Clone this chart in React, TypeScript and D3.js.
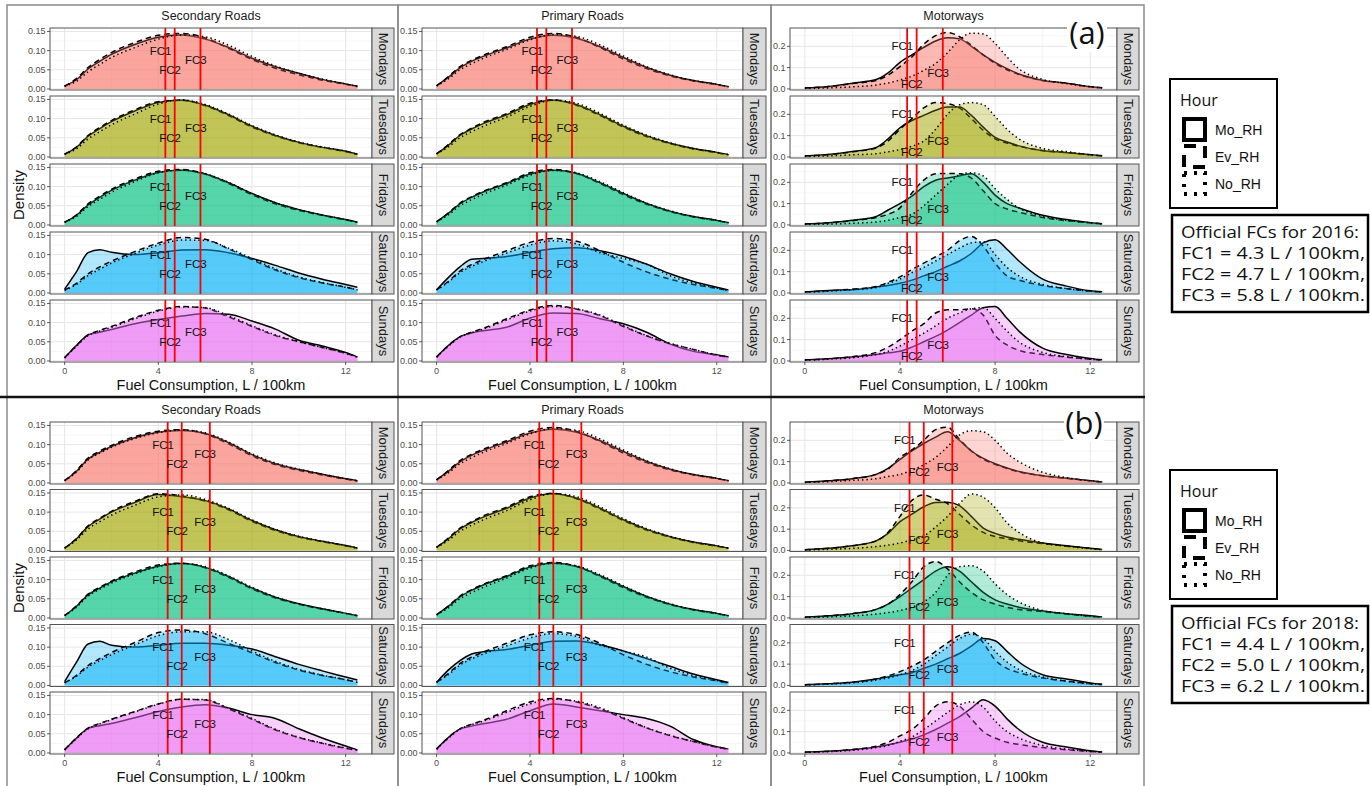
import React, { useRef, useEffect } from "react";
import * as d3 from "d3";

// categories
const roadTypes = ["Secondary Roads", "Primary Roads", "Motorways"];
const days = ["Mondays", "Tuesdays", "Fridays", "Saturdays", "Sundays"];
const hours = ["Mo_RH", "Ev_RH", "No_RH"];
const dayColors = ["#F8766D", "#A3A500", "#00BF7D", "#00B0F6", "#E76BF3"];
const fcLabels = ["FC1", "FC2", "FC3"];
const fc2016 = [4.3, 4.7, 5.8];
const fc2018 = [4.4, 5.0, 6.2];
const xTicks = [0, 4, 8, 12];
const roadYTicks = [0, 0.05, 0.1, 0.15];
const mwayYTicks = [0, 0.1, 0.2];
const roadLabelY = [0.1, 0.05, 0.075];
const mwayLabelY2016 = [0.2, 0.025, 0.075];
const mwayLabelY2018 = [0.2, 0.05, 0.075];

// points where the densities were read (L / 100km)
const roadX = [0, 0.5, 1, 1.5, 2, 3, 4, 5, 6, 7, 8, 9, 10, 11, 12, 12.5];
const mwayX = [0, 1, 2, 3, 3.5, 4, 4.5, 5, 5.5, 6, 6.5, 7, 7.5, 8, 8.5, 9, 10, 11, 12, 12.5];

// each array: [Mo_RH, Ev_RH, No_RH]
// ---- 2016, secondary roads
const sec16Mon = [
  [0.007, 0.024, 0.052, 0.072, 0.09, 0.116, 0.135, 0.141, 0.13, 0.108, 0.08, 0.058, 0.041, 0.025, 0.013, 0.007],
  [0.007, 0.027, 0.056, 0.077, 0.095, 0.121, 0.14, 0.145, 0.133, 0.106, 0.077, 0.054, 0.037, 0.023, 0.012, 0.006],
  [0.007, 0.02, 0.045, 0.064, 0.082, 0.108, 0.13, 0.141, 0.136, 0.114, 0.085, 0.06, 0.041, 0.026, 0.013, 0.007],
];
const sec16Tue = [
  [0.007, 0.025, 0.054, 0.074, 0.092, 0.12, 0.142, 0.148, 0.135, 0.11, 0.08, 0.056, 0.038, 0.025, 0.015, 0.007],
  [0.007, 0.026, 0.056, 0.077, 0.095, 0.123, 0.144, 0.148, 0.134, 0.108, 0.078, 0.055, 0.037, 0.025, 0.014, 0.007],
  [0.007, 0.021, 0.047, 0.066, 0.084, 0.112, 0.138, 0.149, 0.137, 0.112, 0.082, 0.058, 0.039, 0.026, 0.015, 0.007],
];
const sec16Fri = [
  [0.007, 0.025, 0.052, 0.072, 0.09, 0.117, 0.137, 0.143, 0.133, 0.11, 0.082, 0.058, 0.04, 0.026, 0.014, 0.007],
  [0.007, 0.026, 0.055, 0.075, 0.093, 0.12, 0.14, 0.145, 0.133, 0.108, 0.079, 0.055, 0.038, 0.025, 0.013, 0.007],
  [0.007, 0.022, 0.048, 0.067, 0.085, 0.113, 0.136, 0.143, 0.134, 0.111, 0.082, 0.058, 0.04, 0.026, 0.014, 0.007],
];
const sec16Sat = [
  [0.01, 0.055, 0.105, 0.113, 0.106, 0.1, 0.105, 0.112, 0.113, 0.105, 0.09, 0.072, 0.052, 0.036, 0.022, 0.015],
  [0.007, 0.025, 0.05, 0.068, 0.083, 0.108, 0.13, 0.145, 0.14, 0.115, 0.087, 0.06, 0.04, 0.026, 0.015, 0.008],
  [0.007, 0.022, 0.045, 0.062, 0.078, 0.103, 0.125, 0.138, 0.137, 0.117, 0.09, 0.063, 0.042, 0.027, 0.015, 0.008],
];
const sec16Sun = [
  [0.008, 0.04, 0.068, 0.075, 0.082, 0.097, 0.108, 0.117, 0.124, 0.122, 0.104, 0.083, 0.054, 0.039, 0.022, 0.01],
  [0.008, 0.04, 0.068, 0.08, 0.09, 0.113, 0.132, 0.142, 0.138, 0.115, 0.09, 0.066, 0.05, 0.035, 0.02, 0.01],
  [0.008, 0.038, 0.066, 0.078, 0.088, 0.11, 0.13, 0.141, 0.139, 0.118, 0.092, 0.068, 0.05, 0.035, 0.02, 0.01],
];

// ---- 2016, primary roads
const pri16Mon = [
  [0.008, 0.03, 0.055, 0.072, 0.085, 0.107, 0.13, 0.14, 0.132, 0.11, 0.082, 0.056, 0.036, 0.022, 0.012, 0.006],
  [0.008, 0.032, 0.058, 0.075, 0.088, 0.11, 0.135, 0.145, 0.134, 0.108, 0.078, 0.053, 0.034, 0.021, 0.011, 0.006],
  [0.008, 0.026, 0.05, 0.066, 0.08, 0.103, 0.128, 0.142, 0.137, 0.115, 0.086, 0.058, 0.037, 0.022, 0.012, 0.006],
];
const pri16Tue = [
  [0.008, 0.03, 0.056, 0.073, 0.087, 0.11, 0.137, 0.148, 0.136, 0.11, 0.08, 0.055, 0.036, 0.022, 0.012, 0.006],
  [0.008, 0.032, 0.058, 0.075, 0.09, 0.113, 0.14, 0.149, 0.135, 0.108, 0.078, 0.053, 0.035, 0.021, 0.011, 0.006],
  [0.008, 0.026, 0.05, 0.066, 0.08, 0.104, 0.132, 0.148, 0.14, 0.114, 0.083, 0.057, 0.037, 0.022, 0.012, 0.006],
];
const pri16Fri = [
  [0.008, 0.03, 0.055, 0.072, 0.086, 0.108, 0.133, 0.143, 0.134, 0.11, 0.082, 0.056, 0.036, 0.022, 0.012, 0.006],
  [0.008, 0.031, 0.057, 0.074, 0.088, 0.11, 0.136, 0.145, 0.134, 0.108, 0.079, 0.054, 0.035, 0.021, 0.011, 0.006],
  [0.008, 0.026, 0.05, 0.066, 0.08, 0.104, 0.13, 0.142, 0.136, 0.113, 0.084, 0.057, 0.037, 0.022, 0.012, 0.006],
];
const pri16Sat = [
  [0.008, 0.04, 0.068, 0.088, 0.09, 0.095, 0.106, 0.115, 0.118, 0.11, 0.096, 0.075, 0.05, 0.03, 0.015, 0.008],
  [0.008, 0.03, 0.057, 0.074, 0.087, 0.11, 0.132, 0.142, 0.135, 0.11, 0.08, 0.055, 0.036, 0.022, 0.012, 0.006],
  [0.008, 0.028, 0.053, 0.069, 0.082, 0.104, 0.125, 0.136, 0.128, 0.105, 0.09, 0.075, 0.045, 0.026, 0.013, 0.006],
];
const pri16Sun = [
  [0.01, 0.04, 0.063, 0.073, 0.079, 0.088, 0.112, 0.125, 0.124, 0.11, 0.097, 0.075, 0.044, 0.025, 0.016, 0.01],
  [0.01, 0.04, 0.063, 0.075, 0.085, 0.11, 0.133, 0.145, 0.135, 0.118, 0.09, 0.065, 0.045, 0.03, 0.015, 0.01],
  [0.01, 0.038, 0.062, 0.074, 0.083, 0.107, 0.13, 0.142, 0.136, 0.12, 0.092, 0.066, 0.046, 0.03, 0.016, 0.01],
];

// ---- 2016, motorways
const mw16Mon = [
  [0.004, 0.011, 0.027, 0.044, 0.075, 0.125, 0.16, 0.195, 0.225, 0.24, 0.235, 0.2, 0.16, 0.125, 0.095, 0.07, 0.04, 0.027, 0.01, 0.005],
  [0.004, 0.011, 0.025, 0.04, 0.065, 0.105, 0.15, 0.21, 0.25, 0.265, 0.245, 0.205, 0.16, 0.12, 0.09, 0.068, 0.04, 0.027, 0.01, 0.005],
  [0.002, 0.005, 0.01, 0.018, 0.028, 0.042, 0.06, 0.087, 0.12, 0.17, 0.23, 0.262, 0.258, 0.214, 0.15, 0.095, 0.045, 0.025, 0.01, 0.005],
];
const mw16Tue = [
  [0.004, 0.011, 0.025, 0.045, 0.085, 0.137, 0.171, 0.195, 0.219, 0.234, 0.234, 0.195, 0.14, 0.092, 0.07, 0.052, 0.029, 0.02, 0.01, 0.005],
  [0.004, 0.011, 0.024, 0.042, 0.075, 0.13, 0.18, 0.23, 0.255, 0.25, 0.23, 0.18, 0.125, 0.085, 0.065, 0.05, 0.03, 0.02, 0.01, 0.005],
  [0.002, 0.005, 0.01, 0.015, 0.024, 0.035, 0.05, 0.075, 0.13, 0.2, 0.245, 0.255, 0.245, 0.19, 0.13, 0.085, 0.04, 0.025, 0.01, 0.005],
];
const mw16Fri = [
  [0.004, 0.01, 0.022, 0.04, 0.07, 0.1, 0.135, 0.18, 0.21, 0.22, 0.23, 0.24, 0.2, 0.14, 0.1, 0.08, 0.045, 0.025, 0.01, 0.005],
  [0.004, 0.01, 0.02, 0.035, 0.05, 0.08, 0.15, 0.21, 0.24, 0.242, 0.24, 0.22, 0.16, 0.1, 0.075, 0.06, 0.035, 0.02, 0.01, 0.005],
  [0.002, 0.004, 0.008, 0.014, 0.022, 0.035, 0.05, 0.09, 0.14, 0.19, 0.235, 0.245, 0.23, 0.17, 0.12, 0.08, 0.04, 0.022, 0.01, 0.005],
];
const mw16Sat = [
  [0.004, 0.012, 0.015, 0.028, 0.035, 0.045, 0.06, 0.08, 0.1, 0.125, 0.15, 0.185, 0.235, 0.25, 0.205, 0.15, 0.065, 0.032, 0.01, 0.005],
  [0.004, 0.01, 0.018, 0.03, 0.05, 0.075, 0.11, 0.14, 0.17, 0.2, 0.245, 0.265, 0.22, 0.14, 0.08, 0.06, 0.035, 0.02, 0.008, 0.004],
  [0.003, 0.008, 0.015, 0.025, 0.045, 0.065, 0.095, 0.12, 0.15, 0.18, 0.21, 0.235, 0.24, 0.18, 0.12, 0.08, 0.04, 0.02, 0.008, 0.004],
];
const mw16Sun = [
  [0.004, 0.01, 0.018, 0.03, 0.038, 0.045, 0.065, 0.09, 0.115, 0.145, 0.18, 0.215, 0.25, 0.255, 0.2, 0.14, 0.06, 0.03, 0.012, 0.005],
  [0.004, 0.01, 0.02, 0.04, 0.065, 0.1, 0.14, 0.175, 0.225, 0.24, 0.24, 0.245, 0.215, 0.12, 0.075, 0.05, 0.03, 0.018, 0.008, 0.004],
  [0.003, 0.008, 0.015, 0.03, 0.045, 0.07, 0.1, 0.13, 0.165, 0.2, 0.225, 0.245, 0.25, 0.2, 0.14, 0.09, 0.04, 0.02, 0.008, 0.004],
];

// ---- 2018, secondary roads
const sec18Mon = [
  [0.006, 0.03, 0.062, 0.08, 0.095, 0.118, 0.132, 0.137, 0.129, 0.105, 0.074, 0.05, 0.035, 0.023, 0.011, 0.006],
  [0.006, 0.032, 0.065, 0.083, 0.098, 0.121, 0.135, 0.139, 0.128, 0.102, 0.071, 0.048, 0.033, 0.021, 0.01, 0.005],
  [0.006, 0.028, 0.06, 0.078, 0.093, 0.116, 0.131, 0.138, 0.131, 0.107, 0.076, 0.052, 0.036, 0.023, 0.011, 0.006],
];
const sec18Tue = [
  [0.006, 0.03, 0.062, 0.082, 0.1, 0.125, 0.146, 0.14, 0.13, 0.108, 0.078, 0.054, 0.036, 0.024, 0.013, 0.006],
  [0.006, 0.031, 0.064, 0.084, 0.102, 0.128, 0.148, 0.142, 0.129, 0.106, 0.076, 0.052, 0.035, 0.023, 0.012, 0.006],
  [0.006, 0.027, 0.056, 0.075, 0.092, 0.118, 0.14, 0.145, 0.133, 0.11, 0.08, 0.055, 0.037, 0.024, 0.013, 0.006],
];
const sec18Fri = [
  [0.006, 0.03, 0.06, 0.078, 0.094, 0.117, 0.135, 0.142, 0.132, 0.108, 0.078, 0.054, 0.037, 0.024, 0.012, 0.006],
  [0.006, 0.031, 0.062, 0.08, 0.096, 0.12, 0.138, 0.143, 0.131, 0.106, 0.076, 0.052, 0.036, 0.023, 0.012, 0.006],
  [0.006, 0.028, 0.057, 0.075, 0.091, 0.115, 0.134, 0.142, 0.134, 0.11, 0.08, 0.055, 0.037, 0.024, 0.012, 0.006],
];
const sec18Sat = [
  [0.01, 0.06, 0.108, 0.115, 0.105, 0.1, 0.105, 0.11, 0.11, 0.105, 0.095, 0.075, 0.055, 0.038, 0.022, 0.014],
  [0.007, 0.026, 0.052, 0.07, 0.086, 0.112, 0.138, 0.145, 0.135, 0.11, 0.085, 0.06, 0.04, 0.026, 0.015, 0.008],
  [0.007, 0.024, 0.048, 0.065, 0.08, 0.106, 0.13, 0.14, 0.14, 0.12, 0.09, 0.063, 0.042, 0.027, 0.015, 0.008],
];
const sec18Sun = [
  [0.008, 0.038, 0.064, 0.071, 0.077, 0.092, 0.108, 0.12, 0.126, 0.117, 0.1, 0.09, 0.063, 0.039, 0.018, 0.008],
  [0.008, 0.039, 0.065, 0.077, 0.088, 0.108, 0.128, 0.14, 0.138, 0.115, 0.088, 0.06, 0.04, 0.025, 0.012, 0.007],
  [0.008, 0.037, 0.063, 0.076, 0.087, 0.107, 0.127, 0.14, 0.139, 0.117, 0.09, 0.062, 0.041, 0.026, 0.013, 0.007],
];

// ---- 2018, primary roads
const pri18Mon = pri16Mon;
const pri18Tue = pri16Tue;
const pri18Fri = pri16Fri;
const pri18Sat = [
  [0.008, 0.04, 0.065, 0.082, 0.088, 0.094, 0.105, 0.115, 0.116, 0.106, 0.09, 0.07, 0.05, 0.03, 0.015, 0.008],
  [0.008, 0.031, 0.057, 0.074, 0.087, 0.11, 0.132, 0.14, 0.133, 0.11, 0.08, 0.055, 0.036, 0.022, 0.012, 0.006],
  [0.008, 0.028, 0.053, 0.069, 0.082, 0.103, 0.124, 0.135, 0.128, 0.105, 0.09, 0.074, 0.045, 0.026, 0.013, 0.006],
];
const pri18Sun = [
  [0.01, 0.04, 0.062, 0.07, 0.076, 0.088, 0.11, 0.128, 0.12, 0.11, 0.1, 0.09, 0.07, 0.035, 0.016, 0.01],
  [0.01, 0.04, 0.063, 0.075, 0.085, 0.11, 0.133, 0.142, 0.133, 0.115, 0.09, 0.065, 0.045, 0.03, 0.015, 0.01],
  [0.01, 0.038, 0.062, 0.074, 0.083, 0.106, 0.128, 0.14, 0.135, 0.118, 0.092, 0.066, 0.046, 0.03, 0.016, 0.01],
];

// ---- 2018, motorways
const mw18Mon = [
  [0.003, 0.01, 0.02, 0.04, 0.068, 0.11, 0.15, 0.185, 0.215, 0.24, 0.2, 0.15, 0.115, 0.09, 0.07, 0.054, 0.034, 0.022, 0.01, 0.004],
  [0.003, 0.01, 0.02, 0.04, 0.065, 0.12, 0.155, 0.2, 0.25, 0.262, 0.205, 0.15, 0.112, 0.088, 0.068, 0.052, 0.034, 0.022, 0.01, 0.004],
  [0.002, 0.006, 0.012, 0.02, 0.03, 0.04, 0.06, 0.085, 0.12, 0.17, 0.225, 0.245, 0.24, 0.2, 0.14, 0.1, 0.05, 0.025, 0.01, 0.005],
];
const mw18Tue = [
  [0.003, 0.01, 0.022, 0.045, 0.08, 0.135, 0.17, 0.205, 0.225, 0.226, 0.21, 0.16, 0.105, 0.08, 0.063, 0.052, 0.035, 0.022, 0.01, 0.004],
  [0.003, 0.01, 0.022, 0.045, 0.085, 0.16, 0.235, 0.26, 0.24, 0.22, 0.17, 0.12, 0.085, 0.065, 0.055, 0.045, 0.032, 0.02, 0.01, 0.004],
  [0.002, 0.005, 0.01, 0.018, 0.025, 0.035, 0.05, 0.068, 0.11, 0.16, 0.22, 0.265, 0.25, 0.2, 0.13, 0.085, 0.035, 0.02, 0.008, 0.004],
];
const mw18Fri = [
  [0.003, 0.01, 0.02, 0.04, 0.065, 0.1, 0.14, 0.18, 0.22, 0.24, 0.22, 0.17, 0.12, 0.085, 0.065, 0.05, 0.033, 0.02, 0.01, 0.004],
  [0.003, 0.01, 0.02, 0.04, 0.065, 0.11, 0.17, 0.24, 0.265, 0.23, 0.17, 0.12, 0.085, 0.065, 0.05, 0.04, 0.03, 0.018, 0.008, 0.004],
  [0.002, 0.005, 0.01, 0.018, 0.025, 0.035, 0.05, 0.075, 0.12, 0.2, 0.24, 0.245, 0.22, 0.16, 0.11, 0.075, 0.035, 0.02, 0.008, 0.004],
];
const mw18Sat = [
  [0.003, 0.008, 0.015, 0.03, 0.04, 0.05, 0.06, 0.08, 0.1, 0.125, 0.15, 0.185, 0.22, 0.21, 0.16, 0.11, 0.05, 0.03, 0.012, 0.005],
  [0.003, 0.008, 0.015, 0.03, 0.045, 0.065, 0.09, 0.12, 0.16, 0.2, 0.235, 0.25, 0.2, 0.12, 0.08, 0.06, 0.035, 0.02, 0.008, 0.004],
  [0.002, 0.006, 0.012, 0.025, 0.035, 0.05, 0.07, 0.1, 0.14, 0.18, 0.22, 0.24, 0.22, 0.16, 0.11, 0.075, 0.04, 0.02, 0.008, 0.004],
];
const mw18Sun = [
  [0.003, 0.008, 0.015, 0.028, 0.038, 0.05, 0.065, 0.085, 0.11, 0.14, 0.17, 0.21, 0.25, 0.22, 0.16, 0.11, 0.05, 0.028, 0.01, 0.004],
  [0.003, 0.008, 0.016, 0.032, 0.05, 0.08, 0.11, 0.16, 0.22, 0.24, 0.22, 0.16, 0.1, 0.07, 0.05, 0.04, 0.025, 0.015, 0.007, 0.003],
  [0.002, 0.006, 0.012, 0.025, 0.035, 0.055, 0.075, 0.11, 0.15, 0.19, 0.225, 0.24, 0.215, 0.15, 0.1, 0.07, 0.035, 0.018, 0.007, 0.003],
];

const curves2016 = [
  [sec16Mon, sec16Tue, sec16Fri, sec16Sat, sec16Sun],
  [pri16Mon, pri16Tue, pri16Fri, pri16Sat, pri16Sun],
  [mw16Mon, mw16Tue, mw16Fri, mw16Sat, mw16Sun],
];
const curves2018 = [
  [sec18Mon, sec18Tue, sec18Fri, sec18Sat, sec18Sun],
  [pri18Mon, pri18Tue, pri18Fri, pri18Sat, pri18Sun],
  [mw18Mon, mw18Tue, mw18Fri, mw18Sat, mw18Sun],
];

const FONT = "'Liberation Sans', Arial, sans-serif";
const FONT2 = "'Open Sans', 'Liberation Sans', sans-serif";

export default function App() {
  const svgRef = useRef<SVGSVGElement>(null);

  useEffect(() => {
    const svg = d3.select(svgRef.current);
    svg.selectAll("*").remove();
    svg.append("rect").attr("width", 1370).attr("height", 786).attr("fill", "#fff");

    const cols = [
      { boxL: 7, boxR: 398, panL: 50, panR: 372, stripR: 394 },
      { boxL: 398, boxR: 771, panL: 422, panR: 743, stripR: 766 },
      { boxL: 771, boxR: 1144, panL: 790, panR: 1117, stripR: 1139 },
    ];
    const blocks = [
      { year: "2016", fc: fc2016, curves: curves2016, mwLab: mwayLabelY2016, top: 28, step: 68, boxTop: 5, boxBot: 397, tag: "(a)", tagX: 1087, tagY: 44, legTop: 79 },
      { year: "2018", fc: fc2018, curves: curves2018, mwLab: mwayLabelY2018, top: 422, step: 67.5, boxTop: 397, boxBot: 792, tag: "(b)", tagX: 1084, tagY: 434, legTop: 470 },
    ];
    const PH = 62;
    const dash = [null, "5.5,4", "1.4,3"];

    blocks.forEach((b) => {
      // column boxes
      cols.forEach((c) => {
        svg.append("rect")
          .attr("x", c.boxL).attr("y", b.boxTop)
          .attr("width", c.boxR - c.boxL).attr("height", b.boxBot - b.boxTop)
          .attr("fill", "none").attr("stroke", "#8a8a8a").attr("stroke-width", 1.5);
      });

      cols.forEach((c, r) => {
        const isMw = r === 2;
        const xs = isMw ? mwayX : roadX;
        const yTicks = isMw ? mwayYTicks : roadYTicks;
        const x = d3.scaleLinear().domain([-0.625, 13.125]).range([c.panL, c.panR]);
        const labY = isMw ? b.mwLab : roadLabelY;

        days.forEach((day, d) => {
          const top = b.top + d * b.step;
          const bot = top + PH;
          const y = d3.scaleLinear()
            .domain(isMw ? [-0.005, 0.286] : [-0.0027, 0.159])
            .range([bot, top]);
          const g = svg.append("g");

          g.append("rect").attr("x", c.panL).attr("y", top)
            .attr("width", c.panR - c.panL).attr("height", PH).attr("fill", "#fff");

          // grid
          const yMinor = d3.pairs(yTicks).map(([a, e]) => (a + e) / 2);
          yMinor.push(yTicks[yTicks.length - 1] + (yTicks[1] - yTicks[0]) / 2);
          const xMinor = d3.pairs(xTicks).map(([a, e]) => (a + e) / 2);
          g.selectAll(".ymin").data(yMinor.filter((v) => y(v) > top)).enter().append("line")
            .attr("x1", c.panL).attr("x2", c.panR).attr("y1", (v) => y(v)).attr("y2", (v) => y(v))
            .attr("stroke", "#f2f2f2").attr("stroke-width", 0.7);
          g.selectAll(".xmin").data(xMinor).enter().append("line")
            .attr("y1", top).attr("y2", bot).attr("x1", (v) => x(v)).attr("x2", (v) => x(v))
            .attr("stroke", "#f2f2f2").attr("stroke-width", 0.7);
          g.selectAll(".ymaj").data(yTicks).enter().append("line")
            .attr("x1", c.panL).attr("x2", c.panR).attr("y1", (v) => y(v)).attr("y2", (v) => y(v))
            .attr("stroke", "#e6e6e6").attr("stroke-width", 1);
          g.selectAll(".xmaj").data(xTicks).enter().append("line")
            .attr("y1", top).attr("y2", bot).attr("x1", (v) => x(v)).attr("x2", (v) => x(v))
            .attr("stroke", "#e6e6e6").attr("stroke-width", 1);

          // densities
          const area = d3.area<number[]>().x((p) => x(p[0])).y0(y(0)).y1((p) => y(p[1])).curve(d3.curveMonotoneX);
          const line = d3.line<number[]>().x((p) => x(p[0])).y((p) => y(p[1])).curve(d3.curveMonotoneX);
          b.curves[r][d].forEach((vals, h) => {
            const pts = xs.map((xv, i) => [xv, vals[i]]);
            g.append("path").attr("d", area(pts)).attr("fill", dayColors[d]).attr("fill-opacity", 0.3);
            g.append("path").attr("d", line(pts)).attr("fill", "none")
              .attr("stroke", "#000").attr("stroke-width", 1.5)
              .attr("stroke-dasharray", dash[h]);
          });

          // official FC lines + labels
          b.fc.forEach((v) => {
            g.append("line").attr("x1", x(v)).attr("x2", x(v)).attr("y1", top).attr("y2", bot)
              .attr("stroke", "#ff0000").attr("stroke-width", 1.8);
          });
          b.fc.forEach((v, i) => {
            g.append("text").attr("x", x(v - 0.2)).attr("y", y(labY[i]))
              .attr("text-anchor", "middle").attr("dominant-baseline", "central")
              .attr("font-family", FONT).attr("font-size", 11.5).attr("fill", "#111")
              .text(fcLabels[i]);
          });

          g.append("rect").attr("x", c.panL).attr("y", top)
            .attr("width", c.panR - c.panL).attr("height", PH)
            .attr("fill", "none").attr("stroke", "#555").attr("stroke-width", 1);

          // strip
          g.append("rect").attr("x", c.panR).attr("y", top)
            .attr("width", c.stripR - c.panR).attr("height", PH)
            .attr("fill", "#d9d9d9").attr("stroke", "#555").attr("stroke-width", 1);
          g.append("text")
            .attr("transform", `translate(${(c.panR + c.stripR) / 2},${top + PH / 2}) rotate(90)`)
            .attr("text-anchor", "middle").attr("dominant-baseline", "central")
            .attr("font-family", FONT).attr("font-size", 13).attr("fill", "#1a1a1a")
            .text(day);

          // y axis
          yTicks.forEach((t) => {
            g.append("line").attr("x1", c.panL - 3).attr("x2", c.panL).attr("y1", y(t)).attr("y2", y(t))
              .attr("stroke", "#333").attr("stroke-width", 0.8);
            g.append("text").attr("x", c.panL - 4.5).attr("y", y(t))
              .attr("text-anchor", "end").attr("dominant-baseline", "central")
              .attr("font-family", FONT).attr("font-size", 9).attr("fill", "#4d4d4d")
              .text(isMw ? d3.format(".1f")(t) : d3.format(".2f")(t));
          });

          // x axis on bottom panel
          if (d === days.length - 1) {
            xTicks.forEach((t) => {
              g.append("line").attr("x1", x(t)).attr("x2", x(t)).attr("y1", bot).attr("y2", bot + 3)
                .attr("stroke", "#333").attr("stroke-width", 0.8);
              g.append("text").attr("x", x(t)).attr("y", bot + 12)
                .attr("text-anchor", "middle")
                .attr("font-family", FONT).attr("font-size", 9).attr("fill", "#4d4d4d")
                .text(t);
            });
            svg.append("text").attr("x", (c.panL + c.panR) / 2).attr("y", bot + 28)
              .attr("text-anchor", "middle")
              .attr("font-family", FONT).attr("font-size", 14.5).attr("fill", "#111")
              .text("Fuel Consumption, L / 100km");
          }
        });

        // column title
        svg.append("text").attr("x", (c.panL + c.panR) / 2).attr("y", b.top - 12)
          .attr("text-anchor", "middle").attr("dominant-baseline", "central")
          .attr("font-family", FONT).attr("font-size", 12.5).attr("fill", "#1a1a1a")
          .text(roadTypes[r]);
      });

      // y title
      const midY = (b.top + b.top + 4 * b.step + PH) / 2;
      svg.append("text").attr("transform", `translate(18,${midY}) rotate(-90)`)
        .attr("text-anchor", "middle").attr("dominant-baseline", "central")
        .attr("font-family", FONT).attr("font-size", 15).attr("fill", "#111")
        .text("Density");

      // sub-figure tag
      svg.append("rect").attr("x", b.tagX - 20).attr("y", b.tagY - 25).attr("width", 40).attr("height", 33)
        .attr("fill", "#fff");
      svg.append("text").attr("x", b.tagX).attr("y", b.tagY)
        .attr("text-anchor", "middle")
        .attr("font-family", FONT2).attr("font-size", 31).attr("fill", "#111")
        .text(b.tag);

      // legend
      const L = b.legTop;
      svg.append("rect").attr("x", 1170).attr("y", L).attr("width", 107).attr("height", 129)
        .attr("fill", "#fff").attr("stroke", "#000").attr("stroke-width", 2);
      svg.append("text").attr("x", 1180).attr("y", L + 27)
        .attr("font-family", FONT2).attr("font-size", 16).attr("fill", "#111").text("Hour");
      const keyDash = [null, "12,9", "3,7"];
      hours.forEach((h, i) => {
        const ky = L + 40 + i * 27;
        svg.append("rect").attr("x", 1184).attr("y", ky).attr("width", 21).attr("height", 21)
          .attr("fill", "none").attr("stroke", "#000").attr("stroke-width", 4)
          .attr("stroke-dasharray", keyDash[i]);
        svg.append("text").attr("x", 1215).attr("y", ky + 11)
          .attr("dominant-baseline", "central")
          .attr("font-family", FONT).attr("font-size", 14).attr("fill", "#111").text(h);
      });

      // official FC box
      const T = L + 136;
      svg.append("rect").attr("x", 1172).attr("y", T).attr("width", 196).attr("height", 97)
        .attr("fill", "#fff").attr("stroke", "#000").attr("stroke-width", 2.5);
      const lines = [
        `Official FCs for ${b.year}:`,
        ...b.fc.map((v, i) => `${fcLabels[i]} = ${v.toFixed(1)} L / 100km${i === 2 ? "." : ","}`),
      ];
      const lineLen = [178, 184, 184, 184];
      lines.forEach((s, i) => {
        svg.append("text").attr("x", 1181).attr("y", T + 23 + i * 21)
          .attr("font-family", FONT2).attr("font-size", 17).attr("fill", "#111")
          .attr("textLength", lineLen[i]).attr("lengthAdjust", "spacingAndGlyphs")
          .text(s);
      });
    });

    // separator between (a) and (b)
    svg.append("line").attr("x1", 0).attr("x2", 1145).attr("y1", 397).attr("y2", 397)
      .attr("stroke", "#111").attr("stroke-width", 2.5);
  }, []);

  return (
    <svg
      ref={svgRef}
      width={1370}
      height={786}
      style={{ position: "absolute", left: 0, top: 0, display: "block" }}
    />
  );
}
